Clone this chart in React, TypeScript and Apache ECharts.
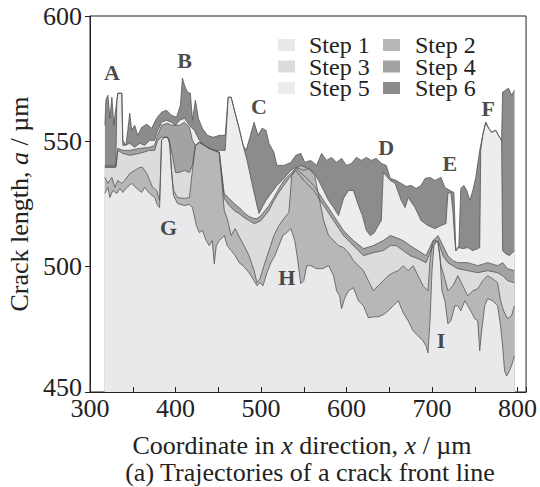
import React, { useEffect, useRef } from 'react';
import * as echarts from 'echarts';

const stepNames = ['Step 1', 'Step 2', 'Step 3', 'Step 4', 'Step 5', 'Step 6'];
const stepColors = ['#e9e9eb', '#b7b7ba', '#dcdcde', '#a3a3a6', '#ededef', '#8c8c8f'];

const step1: number[][] = [
  [317.4,529.2],[320.9,531.6],[323.3,527.6],[326.7,530.4],[331.4,529.2],[334.9,531.2],[338.4,529.6],[343.0,531.6],
  [348.8,533.2],[354.7,531.2],[360.5,529.6],[364.0,531.6],[369.8,529.2],[375.6,527.6],[379.1,524.4],[381.4,523.6],
  [383.7,550.4],[387.2,551.6],[390.7,551.6],[393.0,550.4],[395.3,538.4],[397.7,528.4],[402.3,525.2],[410.5,524.4],
  [416.3,524.8],[419.8,523.6],[424.4,516.4],[427.9,513.6],[431.4,514.4],[436.0,510.4],[439.5,508.4],[443.0,510.4],
  [445.3,501.2],[447.7,508.4],[451.2,510.4],[457.0,512.4],[460.5,508.4],[465.1,506.4],[469.8,504.4],[474.4,501.6],
  [480.2,500.0],[486.0,497.6],[491.9,494.4],[495.3,492.4],[498.8,493.6],[502.3,492.4],[507.0,497.6],[511.6,501.6],
  [516.3,504.4],[520.9,508.4],[525.6,512.4],[530.2,513.6],[534.9,515.2],[539.5,510.4],[543.0,502.4],[546.5,493.2],
  [550.0,494.4],[553.5,500.4],[558.1,500.4],[565.1,499.2],[572.1,499.2],[579.1,500.4],[584.9,496.4],[588.4,490.4],
  [591.9,488.4],[594.2,483.2],[597.7,487.2],[602.3,490.4],[608.1,491.6],[614.0,486.4],[619.8,484.4],[625.6,479.6],
  [631.4,480.0],[637.2,480.0],[643.0,480.8],[648.8,482.4],[654.7,484.4],[660.5,486.4],[666.3,481.6],[672.1,478.4],
  [677.9,474.4],[683.7,472.4],[689.5,470.4],[693.0,468.4],[695.3,465.6],[697.7,478.4],[700.0,498.4],[702.3,508.4],
  [704.7,510.4],[707.0,509.6],[709.3,504.4],[711.6,490.4],[715.1,486.4],[718.6,477.2],[722.1,478.4],[726.7,484.4],
  [730.2,484.4],[733.7,482.4],[738.4,486.4],[741.9,484.4],[745.3,482.4],[750.0,479.2],[753.5,478.4],[755.8,466.4],
  [758.1,474.4],[761.6,484.4],[765.1,487.2],[770.9,486.4],[776.7,484.4],[780.2,476.4],[782.6,468.4],[784.9,458.4],
  [787.2,456.4],[789.5,457.6],[793.0,460.4],[796.5,464.4]
];

const step2: number[][] = [
  [317.4,535.6],[320.9,533.2],[325.6,535.6],[329.1,531.6],[332.6,534.4],[337.2,533.2],[340.7,534.4],[346.5,537.2],
  [352.3,538.4],[358.1,539.6],[361.6,539.6],[366.3,537.2],[369.8,534.4],[373.3,531.6],[377.9,530.4],[381.4,526.4],
  [383.7,550.4],[387.2,551.6],[390.7,551.6],[393.0,550.4],[395.3,538.4],[397.7,530.4],[402.3,527.6],[410.5,527.2],
  [416.3,527.6],[419.8,538.4],[423.3,548.4],[427.9,549.6],[433.7,548.4],[439.5,547.2],[445.3,546.4],[451.2,545.6],
  [457.0,522.4],[460.5,519.2],[465.1,512.4],[469.8,515.2],[474.4,512.0],[480.2,508.4],[486.0,504.4],[491.9,498.4],
  [495.3,493.6],[498.8,495.2],[503.5,500.4],[509.3,506.4],[515.1,512.4],[520.9,516.4],[526.7,519.2],[532.6,521.6],
  [536.0,536.4],[540.7,539.2],[546.5,540.4],[552.3,539.6],[558.1,538.4],[562.8,536.4],[567.4,528.4],[573.3,518.4],
  [579.1,512.4],[584.9,510.4],[590.7,508.4],[596.5,507.6],[602.3,505.6],[608.1,502.4],[614.0,500.4],[619.8,498.4],
  [625.6,494.4],[631.4,490.4],[637.2,492.4],[643.0,494.4],[648.8,496.4],[654.7,497.6],[660.5,498.4],[666.3,500.4],
  [672.1,498.4],[677.9,500.4],[683.7,496.4],[689.5,492.4],[695.3,490.4],[697.7,502.4],[700.0,508.4],[702.3,510.4],
  [704.7,510.4],[707.0,509.6],[710.5,500.4],[714.0,496.4],[718.6,490.4],[724.4,492.4],[730.2,496.4],[736.0,492.4],
  [741.9,488.4],[747.7,490.4],[753.5,491.2],[759.3,494.4],[765.1,496.4],[770.9,495.2],[776.7,493.6],[780.2,486.4],
  [783.7,482.4],[788.4,479.2],[793.0,480.4],[796.5,484.4]
];

const step3: number[][] = [
  [317.4,539.6],[330.2,539.6],[332.6,546.4],[338.4,545.2],[346.5,544.4],[358.1,545.2],[369.8,546.4],[375.6,546.4],
  [379.1,550.4],[383.7,551.6],[390.7,551.6],[395.3,546.4],[400.0,537.6],[404.7,537.6],[410.5,538.4],[416.3,537.6],
  [419.8,540.4],[423.3,548.4],[427.9,549.6],[433.7,548.4],[439.5,547.2],[445.3,546.4],[451.2,545.6],[457.0,527.2],
  [462.8,524.4],[468.6,522.4],[474.4,521.2],[480.2,519.6],[486.0,518.4],[491.9,517.2],[495.3,517.6],[500.0,518.4],
  [504.7,520.4],[509.3,522.4],[515.1,526.4],[520.9,529.6],[526.7,532.4],[532.6,535.2],[540.7,538.4],[550.0,534.4],
  [561.6,530.4],[573.3,524.4],[584.9,518.4],[596.5,512.4],[608.1,508.4],[619.8,504.4],[631.4,505.6],[643.0,506.4],
  [651.2,508.4],[658.1,508.4],[666.3,506.4],[674.4,504.4],[683.7,503.2],[693.0,501.6],[701.2,508.4],[707.0,510.4],
  [712.8,504.4],[718.6,501.6],[724.4,500.4],[730.2,499.2],[741.9,498.4],[753.5,497.6],[765.1,498.4],[776.7,497.6],
  [782.6,496.4],[788.4,494.4],[796.5,493.6]
];

const step4: number[][] = [
  [317.4,540.0],[330.2,540.0],[332.6,547.2],[338.4,546.4],[346.5,546.4],[358.1,547.2],[369.8,547.6],[375.6,548.4],
  [379.1,552.4],[383.7,556.4],[390.7,557.2],[395.3,556.4],[400.0,556.4],[404.7,556.4],[410.5,557.6],[416.3,555.6],
  [419.8,550.4],[423.3,548.4],[427.9,549.6],[433.7,548.4],[439.5,547.2],[445.3,546.4],[451.2,545.6],[457.0,529.2],
  [462.8,527.2],[468.6,525.2],[474.4,523.6],[480.2,521.6],[486.0,520.0],[491.9,519.2],[495.3,519.2],[500.0,520.4],
  [504.7,522.4],[509.3,524.4],[515.1,527.6],[520.9,531.2],[526.7,534.4],[532.6,536.4],[536.0,537.6],[540.7,539.2],
  [550.0,536.4],[561.6,532.4],[573.3,526.4],[584.9,520.4],[596.5,514.4],[608.1,510.4],[619.8,507.2],[631.4,508.4],
  [643.0,510.4],[651.2,512.4],[658.1,511.6],[666.3,510.4],[674.4,508.4],[683.7,506.4],[693.0,504.4],[701.2,510.4],
  [707.0,512.4],[712.8,508.4],[718.6,504.4],[724.4,502.4],[730.2,501.6],[741.9,501.6],[753.5,500.4],[765.1,501.6],
  [776.7,500.4],[782.6,501.6],[788.4,499.2],[796.5,498.4]
];

const step5: number[][] = [
  [317.4,540.4],[330.2,540.4],[331.4,566.4],[332.6,569.2],[337.2,569.2],[338.4,548.4],[340.7,548.4],[346.5,549.2],
  [352.3,547.6],[358.1,549.2],[364.0,548.4],[369.8,550.4],[375.6,550.4],[379.1,554.4],[383.7,557.6],[389.5,558.4],
  [395.3,557.6],[400.0,556.4],[404.7,558.4],[410.5,559.2],[416.3,556.4],[422.1,554.4],[427.9,550.4],[433.7,548.4],
  [439.5,547.2],[445.3,546.4],[451.2,546.4],[458.1,546.4],[461.6,567.6],[465.1,567.6],[469.8,561.2],[474.4,555.2],
  [479.1,548.4],[483.7,542.4],[489.5,533.2],[495.3,524.4],[497.7,521.2],[501.2,523.6],[505.8,526.4],[511.6,529.2],
  [518.6,532.4],[526.7,535.2],[534.9,538.4],[540.7,539.6],[550.0,538.4],[555.8,539.2],[561.6,537.6],[567.4,534.4],
  [573.3,530.4],[579.1,526.4],[584.9,523.6],[590.7,520.4],[596.5,527.2],[602.3,530.4],[608.1,530.4],[614.0,524.4],
  [618.6,520.4],[623.3,514.4],[627.9,512.4],[632.6,513.6],[637.2,516.4],[640.7,518.4],[643.0,537.6],[651.2,534.4],
  [657.0,533.2],[664.0,526.4],[668.6,523.6],[672.1,527.6],[680.2,523.6],[687.2,518.4],[695.3,516.4],[703.5,515.2],
  [710.5,516.4],[716.3,517.2],[718.6,529.2],[722.1,529.6],[724.4,522.4],[726.7,510.4],[727.9,506.4],[731.4,507.6],
  [736.0,507.2],[741.9,507.6],[747.7,506.4],[753.5,507.2],[755.8,507.6],[757.0,546.4],[759.3,552.4],[762.8,557.6],
  [766.3,555.2],[769.8,553.6],[774.4,554.4],[779.1,551.6],[781.4,550.4],[782.6,506.4],[786.0,505.2],[790.7,504.4],
  [794.2,505.6],[796.5,506.4]
];

const step6: number[][] = [
  [317.4,556.4],[318.6,566.4],[320.9,568.4],[323.3,559.2],[325.6,567.6],[327.9,556.4],[330.2,563.2],[332.6,569.2],
  [337.2,569.2],[338.4,550.4],[341.9,548.4],[344.2,554.4],[346.5,561.2],[348.8,554.4],[352.3,556.4],[355.8,552.4],
  [360.5,555.6],[366.3,556.8],[372.1,555.2],[377.9,559.2],[383.7,561.6],[389.5,562.4],[395.3,560.4],[401.2,559.6],
  [405.8,564.4],[408.1,575.2],[410.5,572.4],[414.0,569.6],[417.4,569.2],[419.8,558.4],[423.3,566.4],[426.7,559.2],
  [431.4,555.2],[437.2,552.4],[444.2,551.6],[451.2,552.4],[458.1,552.4],[461.6,567.6],[465.1,567.6],[469.8,561.2],
  [474.4,555.2],[479.1,548.4],[482.6,546.4],[486.0,550.4],[491.9,557.6],[496.5,552.4],[501.2,555.2],[505.8,554.4],
  [509.3,549.2],[515.1,545.6],[518.6,540.4],[526.7,540.4],[534.9,541.6],[540.7,544.4],[546.5,545.2],[551.2,541.6],
  [558.1,542.4],[565.1,540.4],[570.9,545.2],[576.7,542.4],[582.6,543.6],[588.4,541.6],[594.2,543.2],[600.0,540.4],
  [605.8,541.2],[611.6,543.6],[617.4,542.4],[623.3,543.6],[629.1,542.4],[634.9,543.2],[640.7,541.2],[646.5,540.4],
  [651.2,535.2],[658.1,534.4],[664.0,533.2],[669.8,532.0],[675.6,532.4],[681.4,531.2],[687.2,532.4],[691.9,535.2],
  [697.7,535.6],[703.5,534.4],[710.5,535.6],[715.1,531.6],[720.9,530.4],[725.6,529.6],[727.9,506.4],[731.4,508.4],
  [733.7,531.2],[737.2,532.4],[740.7,530.4],[744.2,526.4],[747.7,530.4],[751.2,535.6],[755.8,546.4],[759.3,552.4],
  [762.8,557.6],[766.3,555.2],[769.8,553.6],[774.4,554.4],[779.1,551.6],[781.4,550.4],[782.6,569.6],[786.0,570.4],
  [789.5,571.2],[793.0,568.4],[796.5,570.4]
];

const annLetters = ['A', 'B', 'C', 'D', 'E', 'F', 'G', 'H', 'I'];
const annX = [325.6, 410.5, 497.7, 646.5, 720.9, 765.7, 391.9, 530.2, 710.5];
const annY = [577.6, 582.4, 564.0, 547.6, 541.2, 563.2, 515.6, 495.6, 470.4];

const xTicks = [300, 400, 500, 600, 700, 800];

export default function App() {
  const ref = useRef<HTMLDivElement>(null);
  useEffect(() => {
    if (!ref.current) return;
    const chart = echarts.init(ref.current, null, { renderer: 'svg' });
    const FONT = 'Liberation Serif, Times New Roman, Times, serif';
    const steps = [step1, step2, step3, step4, step5, step6];
    const series: any[] = [];
    for (let i = 5; i >= 0; i--) {
      series.push({
        type: 'line',
        name: stepNames[i],
        data: steps[i],
        symbol: 'none',
        showSymbol: false,
        silent: true,
        lineStyle: { color: '#555', width: 0.8 },
        itemStyle: { color: stepColors[i] },
        areaStyle: { color: stepColors[i], opacity: 1, origin: 'start' },
        emphasis: { disabled: true },
      });
    }
    series.push({
      type: 'scatter',
      silent: true,
      z: 10,
      symbolSize: 1,
      itemStyle: { color: 'rgba(0,0,0,0)' },
      data: annLetters.map((l, i) => ({ name: l, value: [annX[i], annY[i]] })),
      label: {
        show: true,
        position: 'inside',
        formatter: '{b}',
        fontFamily: FONT,
        fontWeight: 'bold',
        fontSize: 22,
        color: '#1a1a1a',
      },
    });

    // Legend drawn as two columns (swatch + multi-line label)
    const rowPitch = 21.5;
    const legendTop = 45;
    const legendCols = [
      { swatchX: 278, textX: 309, idx: [0, 2, 4] },
      { swatchX: 383, textX: 415, idx: [1, 3, 5] },
    ];
    const legendGraphics: any[] = [];
    legendCols.forEach((col) => {
      col.idx.forEach((si, r) => {
        legendGraphics.push({
          type: 'rect',
          shape: { x: col.swatchX, y: legendTop + r * rowPitch - 6, width: 17, height: 12 },
          style: { fill: stepColors[si] },
          silent: true,
        });
      });
      legendGraphics.push({
        type: 'text',
        x: col.textX,
        y: legendTop - rowPitch / 2,
        silent: true,
        style: {
          text: col.idx.map((si) => stepNames[si]).join('\n'),
          fill: '#222',
          font: '24px Liberation Serif, Times New Roman, Times, serif',
          lineHeight: rowPitch,
          textAlign: 'left',
          textVerticalAlign: 'top',
        },
      });
    });

    const titleRich = {
      n: { fontFamily: FONT, fontSize: 26, fill: '#222' },
      i: { fontFamily: FONT, fontSize: 26, fontStyle: 'italic', fill: '#222' },
    };
    chart.setOption({
      animation: false,
      backgroundColor: '#fff',
      grid: { left: 90, right: 12, top: 16, bottom: 95, show: true, borderColor: '#222', borderWidth: 1, backgroundColor: 'transparent' },
      xAxis: {
        type: 'value', min: 300, max: 810, interval: 50, z: 5,
        axisLine: { lineStyle: { color: '#222', width: 1 } },
        axisTick: { inside: true, length: 5, lineStyle: { color: '#222' } },
        splitLine: { show: false },
        axisLabel: {
          fontFamily: FONT, fontSize: 26, color: '#222', margin: 3,
          formatter: (v: number) => (xTicks.indexOf(v) >= 0 ? String(v) : ''),
        },
      },
      yAxis: {
        type: 'value', min: 450, max: 600, interval: 50, z: 5,
        axisLine: { lineStyle: { color: '#222', width: 1 } },
        axisTick: { inside: false, length: 5, lineStyle: { color: '#222' } },
        splitLine: { show: false },
        axisLabel: {
          fontFamily: FONT, fontSize: 26, color: '#222', margin: 8,
          formatter: (v: number) => (v === 450 ? '{u|450}' : String(v)),
          rich: { u: { fontFamily: FONT, fontSize: 26, color: '#222', padding: [0, 0, 10, 0] } },
        },
      },
      graphic: [
        ...legendGraphics,
        {
          type: 'text', x: 19, y: 204, rotation: Math.PI / 2,
          style: {
            text: '{n|Crack length, }{i|a}{n| / µm}',
            textAlign: 'center', textVerticalAlign: 'middle', fill: '#222',
            rich: titleRich,
          },
        },
        {
          type: 'text', x: 302, y: 445,
          style: {
            text: '{n|Coordinate in }{i|x}{n| direction, }{i|x}{n| / µm}',
            textAlign: 'center', textVerticalAlign: 'middle', fill: '#222',
            rich: titleRich,
          },
        },
        {
          type: 'text', x: 310, y: 472,
          style: {
            text: '(a) Trajectories of a crack front line',
            textAlign: 'center', textVerticalAlign: 'middle', fill: '#222',
            font: '26px Liberation Serif, Times New Roman, Times, serif',
          },
        },
      ],
      series,
    });
    return () => chart.dispose();
  }, []);
  return <div ref={ref} style={{ position: 'fixed', left: 0, top: 0, width: 540, height: 487 }} />;
}
